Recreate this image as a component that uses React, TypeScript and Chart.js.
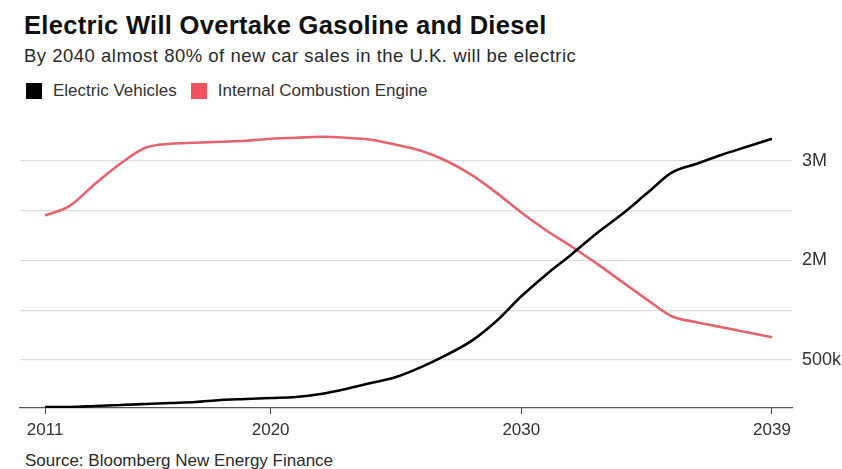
import React, { useEffect, useRef } from "react";
import { Chart, registerables } from "chart.js";

Chart.register(...registerables);

const years = [
  2011, 2012, 2013, 2014, 2015, 2016, 2017, 2018, 2019, 2020,
  2021, 2022, 2023, 2024, 2025, 2026, 2027, 2028, 2029, 2030,
  2031, 2032, 2033, 2034, 2035, 2036, 2037, 2038, 2039, 2040,
];

// values in millions
const electricVehicles = [
  0.53, 0.53, 0.54, 0.55, 0.56, 0.57, 0.58, 0.6, 0.61, 0.62,
  0.63, 0.66, 0.71, 0.77, 0.83, 0.93, 1.05, 1.19, 1.39, 1.64,
  1.86, 2.06, 2.27, 2.46, 2.67, 2.88, 2.97, 3.06, 3.14, 3.22,
];

const internalCombustion = [
  2.45, 2.55, 2.77, 2.97, 3.13, 3.17, 3.18, 3.19, 3.2, 3.22,
  3.23, 3.24, 3.23, 3.21, 3.16, 3.1, 3.0, 2.86, 2.68, 2.48,
  2.3, 2.14, 1.97, 1.79, 1.61, 1.44, 1.38, 1.33, 1.28, 1.23,
];

const xTickValues = [2011, 2020, 2030, 2040];
const xTickLabels = ["2011", "2020", "2030", "2039"];

const yTickValues = [1, 1.5, 2, 2.5, 3];
const yTickLabels = ["500k", "", "2M", "", "3M"];

const seriesNames = ["Electric Vehicles", "Internal Combustion Engine"];
const seriesColors = ["#000000", "#e6646e"];
const legendColors = ["#000000", "#f0525f"];

const FONT = "'Liberation Sans', Arial, Helvetica, sans-serif";

export default function App() {
  const canvasRef = useRef<HTMLCanvasElement | null>(null);

  useEffect(() => {
    document.body.style.margin = "0";
    document.body.style.background = "#ffffff";
    const canvas = canvasRef.current;
    if (!canvas) return;
    const chart = new Chart(canvas, {
      type: "line",
      data: {
        datasets: [
          {
            label: seriesNames[0],
            data: years.map((y, i) => ({ x: y, y: electricVehicles[i] })),
            borderColor: seriesColors[0],
            backgroundColor: seriesColors[0],
            borderWidth: 2.6,
            pointRadius: 0,
            cubicInterpolationMode: "monotone",
          },
          {
            label: seriesNames[1],
            data: years.map((y, i) => ({ x: y, y: internalCombustion[i] })),
            borderColor: seriesColors[1],
            backgroundColor: seriesColors[1],
            borderWidth: 2.6,
            pointRadius: 0,
            cubicInterpolationMode: "monotone",
          },
        ],
      },
      options: {
        animation: false,
        responsive: false,
        maintainAspectRatio: false,
        layout: { padding: { left: 20, right: 0, top: 20, bottom: 8 } },
        plugins: {
          legend: { display: false },
          title: { display: false },
          tooltip: { enabled: false },
        },
        scales: {
          x: {
            type: "linear",
            min: 2010.0,
            max: 2040.8,
            afterBuildTicks: (scale: any) => {
              scale.ticks = xTickValues.map((v) => ({ value: v }));
            },
            afterFit: (scale: any) => {
              scale.height = 34;
            },
            ticks: {
              autoSkip: false,
              maxRotation: 0,
              padding: 6,
              color: "#333333",
              font: { family: FONT, size: 17 },
              callback: (value: any) => {
                const idx = xTickValues.indexOf(Number(value));
                return idx >= 0 ? xTickLabels[idx] : "";
              },
            },
            grid: {
              drawOnChartArea: false,
              drawTicks: true,
              tickLength: 6,
              color: "#444444",
            },
            border: { display: true, color: "#555555", width: 1.2 },
          },
          y: {
            type: "linear",
            position: "right",
            min: 0.52,
            max: 3.3,
            afterBuildTicks: (scale: any) => {
              scale.ticks = yTickValues.map((v) => ({ value: v }));
            },
            afterFit: (scale: any) => {
              scale.width = 50;
            },
            ticks: {
              padding: 10,
              color: "#333333",
              font: { family: FONT, size: 18 },
              callback: (value: any) => {
                const idx = yTickValues.indexOf(Number(value));
                return idx >= 0 ? yTickLabels[idx] : "";
              },
            },
            grid: { drawTicks: false, color: "#dedede", lineWidth: 1.3 },
            border: { display: false },
          },
        },
      },
    });
    return () => chart.destroy();
  }, []);

  return (
    <div
      style={{
        position: "relative",
        width: 842,
        height: 469,
        background: "#ffffff",
        overflow: "hidden",
        fontFamily: FONT,
        color: "#1a1a1a",
      }}
    >
      <div
        style={{
          position: "absolute",
          left: 24,
          top: 11,
          fontSize: 25.5,
          fontWeight: 700,
          letterSpacing: 0.3,
          whiteSpace: "nowrap",
          color: "#111111",
        }}
      >
        Electric Will Overtake Gasoline and Diesel
      </div>
      <div
        style={{
          position: "absolute",
          left: 24,
          top: 45,
          fontSize: 18.5,
          letterSpacing: 0.5,
          whiteSpace: "nowrap",
          color: "#2a2a2a",
        }}
      >
        By 2040 almost 80% of new car sales in the U.K. will be electric
      </div>
      <div
        style={{
          position: "absolute",
          left: 26,
          top: 81,
          height: 20,
          display: "flex",
          alignItems: "center",
          fontSize: 17,
          whiteSpace: "nowrap",
          color: "#333333",
        }}
      >
        {seriesNames.map((name, i) => (
          <div key={name} style={{ display: "flex", alignItems: "center", marginRight: 14 }}>
            <span
              style={{
                display: "inline-block",
                width: 16,
                height: 16,
                background: legendColors[i],
                marginRight: 11,
              }}
            />
            <span>{name}</span>
          </div>
        ))}
      </div>
      <canvas
        ref={canvasRef}
        width={842}
        height={340}
        style={{ position: "absolute", left: 0, top: 110, width: 842, height: 340 }}
      />
      <div
        style={{
          position: "absolute",
          left: 25,
          top: 451,
          fontSize: 17,
          whiteSpace: "nowrap",
          color: "#2a2a2a",
        }}
      >
        Source: Bloomberg New Energy Finance
      </div>
    </div>
  );
}
